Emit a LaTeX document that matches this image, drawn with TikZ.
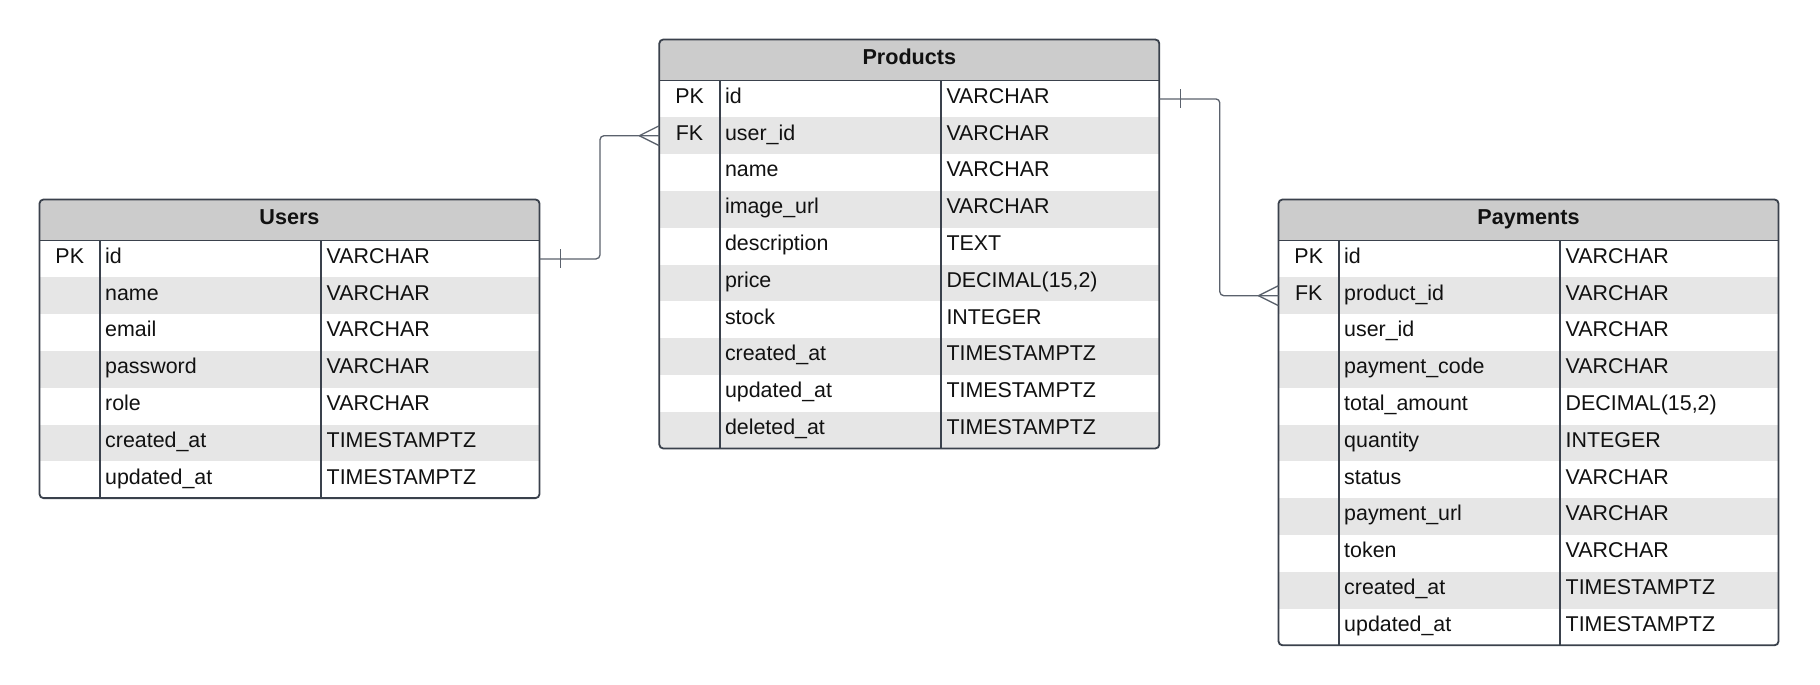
\documentclass[tikz,border=0pt]{standalone}
\usepackage{fontspec}
\setmainfont{Liberation Sans}
\usetikzlibrary{calc}
\definecolor{hdrclr}{HTML}{CCCCCC}
\definecolor{stripeclr}{HTML}{E6E6E6}
\definecolor{frameclr}{HTML}{3A414C}
\definecolor{connclr}{HTML}{5B626D}
\definecolor{inkclr}{HTML}{111111}
\tikzset{
  erdcell/.style={inner sep=0pt, text height=15.4pt, text depth=0pt, font=\fontsize{21.4}{24}\selectfont, text=inkclr},
  celltxt/.style={erdcell, anchor=west},
  keytxt/.style={erdcell, anchor=center},
  titletxt/.style={erdcell, anchor=center, font=\fontsize{21.6}{24}\selectfont\bfseries},
  rowbox/.style={inner sep=0pt, outer sep=0pt, minimum width=500pt, minimum height=36.8pt, anchor=north west},
  tframe/.style={draw=frameclr, line width=1.8pt, rounded corners=4pt, inner sep=0pt, outer sep=0pt, minimum width=500pt, anchor=north west},
  tline/.style={draw=frameclr, line width=1.8pt},
  connline/.style={draw=connclr, line width=1.3pt},
}
\newcommand\erdtable[6]{%
  \pgfmathsetmacro\erdH{41+#5*36.8}%
  \begin{scope}
    \clip[rounded corners=4pt] (#2,#3) rectangle ++(500,\erdH);
    \fill[white] (#2,#3) rectangle ++(500,\erdH);
    \fill[hdrclr] (#2,#3) rectangle ++(500,41);
    \foreach \k/\n/\t [count=\i] in {#6}{%
      \ifodd\i\relax\else\fill[stripeclr] (#2,{#3+41+(\i-1)*36.8}) rectangle ++(500,36.8);\fi
    }
  \end{scope}
  \foreach \k/\n/\t [count=\i] in {#6}{%
    \pgfmathsetmacro\ry{#3+41+(\i-1)*36.8}
    \pgfmathsetmacro\cy{\ry+18.4-3.4}
    \node[rowbox] (#1-r\i) at (#2,\ry) {};
    \node[keytxt] (#1-k\i) at ({#2+30.25},\cy) {\k};
    \node[celltxt] (#1-n\i) at ({#2+65.5},\cy) {\n};
    \node[celltxt] (#1-t\i) at ({#2+287},\cy) {\t};
  }
  \node[titletxt] (#1-title) at ({#2+250},{#3+20.5-3}) {#4};
  \draw[tline] (#2,{#3+41}) -- ++(500,0);
  \draw[tline] ({#2+60.5},{#3+41}) -- ({#2+60.5},{#3+\erdH});
  \draw[tline] ({#2+281.5},{#3+41}) -- ({#2+281.5},{#3+\erdH});
  \node[tframe, minimum height=\erdH pt] (#1) at (#2,#3) {};
}
\begin{document}
\begin{tikzpicture}[x=1pt,y=-1pt]
\useasboundingbox[fill=white] (0,0) rectangle (1820,685);

\erdtable{users}{39.5}{199.5}{Users}{7}{PK/id/VARCHAR, {}/name/VARCHAR, {}/email/VARCHAR, {}/password/VARCHAR, {}/role/VARCHAR, {}/created\_at/TIMESTAMPTZ, {}/updated\_at/TIMESTAMPTZ}

\erdtable{products}{659.3}{39.5}{Products}{10}{PK/id/VARCHAR, FK/user\_id/VARCHAR, {}/name/VARCHAR, {}/image\_url/VARCHAR, {}/description/TEXT, {}/price/{DECIMAL(15,2)}, {}/stock/INTEGER, {}/created\_at/TIMESTAMPTZ, {}/updated\_at/TIMESTAMPTZ, {}/deleted\_at/TIMESTAMPTZ}

\erdtable{payments}{1278.5}{199.5}{Payments}{11}{PK/id/VARCHAR, FK/product\_id/VARCHAR, {}/user\_id/VARCHAR, {}/payment\_code/VARCHAR, {}/total\_amount/{DECIMAL(15,2)}, {}/quantity/INTEGER, {}/status/VARCHAR, {}/payment\_url/VARCHAR, {}/token/VARCHAR, {}/created\_at/TIMESTAMPTZ, {}/updated\_at/TIMESTAMPTZ}

% Users 1 -- N Products
\draw[connline, rounded corners=4pt] (users-r1.east) -- ++(60.5,0) |- (products-r2.west);
\draw[connline] ([shift={(21,-9.5)}]users-r1.east) -- ([shift={(21,9.5)}]users-r1.east);
\draw[connline] ([shift={(-20,0)}]products-r2.west) -- ([shift={(0,-10)}]products-r2.west);
\draw[connline] ([shift={(-20,0)}]products-r2.west) -- ([shift={(0,10)}]products-r2.west);

% Products 1 -- N Payments
\draw[connline, rounded corners=4pt] (products-r1.east) -- ++(60.5,0) |- (payments-r2.west);
\draw[connline] ([shift={(21,-9.5)}]products-r1.east) -- ([shift={(21,9.5)}]products-r1.east);
\draw[connline] ([shift={(-20,0)}]payments-r2.west) -- ([shift={(0,-10)}]payments-r2.west);
\draw[connline] ([shift={(-20,0)}]payments-r2.west) -- ([shift={(0,10)}]payments-r2.west);
\end{tikzpicture}
\end{document}
